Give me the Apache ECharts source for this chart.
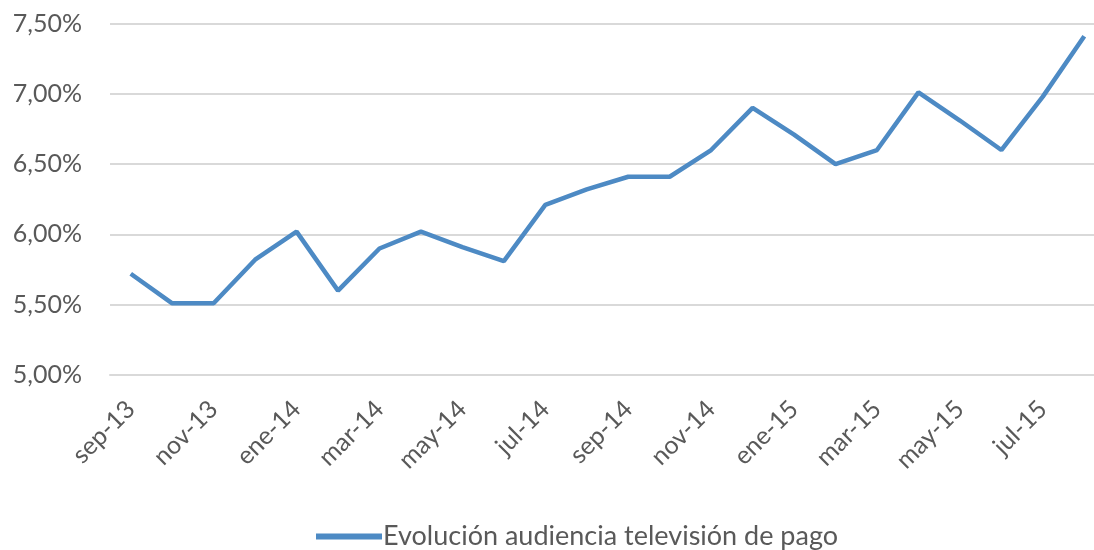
<!DOCTYPE html>
<html><head><meta charset="utf-8">
<script src="https://cdn.jsdelivr.net/npm/echarts@6/dist/echarts.min.js"></script>
<style>html,body{margin:0;padding:0;background:#fff;overflow:hidden;width:1094px;height:550px}#c{width:1110px;height:550px}</style>
</head><body><div id="c"></div>
<script>
var categories = ["sep-13","oct-13","nov-13","dic-13","ene-14","feb-14","mar-14","abr-14","may-14","jun-14","jul-14","ago-14","sep-14","oct-14","nov-14","dic-14","ene-15","feb-15","mar-15","abr-15","may-15","jun-15","jul-15","ago-15"];
var audiencia = [5.72,5.51,5.51,5.82,6.02,5.60,5.90,6.02,5.91,5.81,6.21,6.32,6.41,6.41,6.60,6.90,6.71,6.50,6.60,7.01,6.81,6.60,6.98,7.41];
var seriesName = "Evolución audiencia televisión de pago";
var yMin = 5, yMax = 7.5, yStep = 0.5;
var font = "Lato";
var chart = echarts.init(document.getElementById('c'));
chart.setOption({
  animation:false,
  grid:{left:110, top:23.5, bottom:175, right:5, containLabel:false},
  legend:{top:518, left:311, itemWidth:66, itemHeight:6, icon:'rect', itemGap:0,
    textStyle:{fontFamily:font, fontSize:27, color:'#595959', padding:[0,0,0,-4]},
    data:[seriesName]},
  xAxis:{type:'category', data:categories, boundaryGap:true,
    axisLine:{lineStyle:{color:'#d9d9d9', width:2}},
    axisTick:{interval:1, length:7, lineStyle:{color:'#d9d9d9', width:2}},
    axisLabel:{interval:1, rotate:45, fontFamily:font, fontSize:25, color:'#595959', margin:30}},
  yAxis:{type:'value', min:yMin, max:yMax, interval:yStep,
    axisLine:{show:false}, axisTick:{show:false},
    splitLine:{lineStyle:{color:'#d9d9d9', width:2}},
    axisLabel:{fontFamily:font, fontSize:25, color:'#595959', margin:28,
      formatter:function(v){return v.toFixed(2).replace('.',',')+'%';}}},
  series:[{name:seriesName, type:'line', data:audiencia, symbol:'none',
    lineStyle:{color:'#4d8ac4', width:4.5}, itemStyle:{color:'#4d8ac4'}}]
});
</script></body></html>
